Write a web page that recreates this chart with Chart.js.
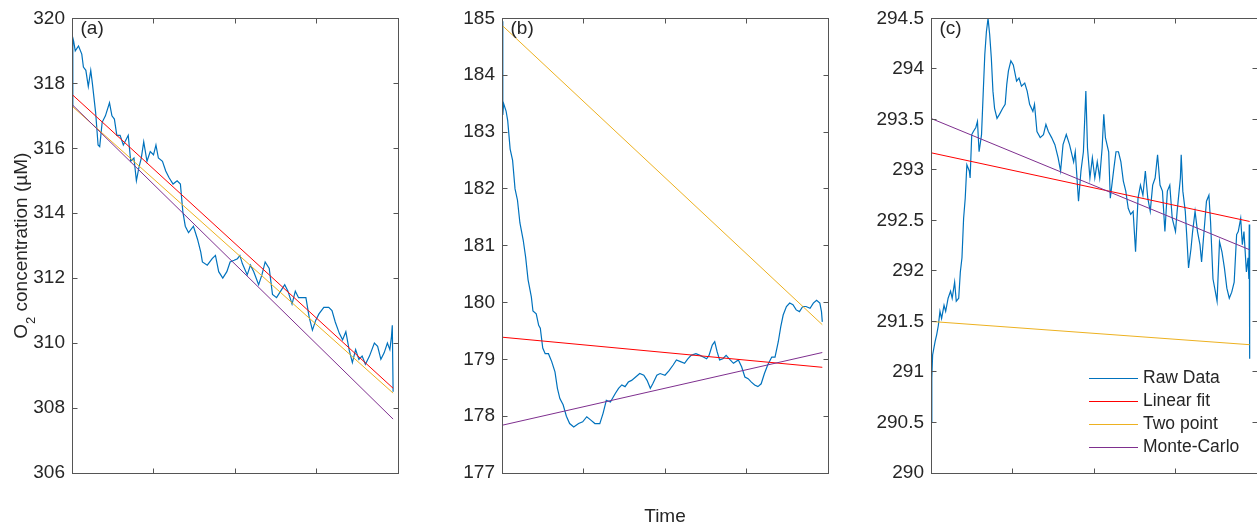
<!DOCTYPE html>
<html>
<head>
<meta charset="utf-8">
<script src="https://cdn.jsdelivr.net/npm/chart.js@4.4.1/dist/chart.umd.min.js"></script>
<style>
  html, body { margin: 0; padding: 0; overflow: hidden; background: #fff; width: 1257px; height: 529px; }
  canvas { position: absolute; top: 0; }
</style>
</head>
<body>
<canvas id="panelA" width="420" height="529" style="left:0px"></canvas>
<canvas id="panelB" width="420" height="529" style="left:420px"></canvas>
<canvas id="panelC" width="420" height="529" style="left:840px"></canvas>
<script>
// ---- panel (a) ----
const timeA = [
  0, 0.01, 0.02, 0.04, 0.08, 0.12, 0.14, 0.17, 0.20, 0.23,
  0.25, 0.29, 0.32, 0.34, 0.37, 0.41, 0.46, 0.49, 0.52, 0.55,
  0.59, 0.63, 0.69, 0.72, 0.76, 0.79, 0.82, 0.85, 0.88, 0.92,
  0.96, 1.00, 1.03, 1.06, 1.11, 1.15, 1.19, 1.24, 1.29, 1.33,
  1.36, 1.39, 1.43, 1.49, 1.54, 1.58, 1.60, 1.66, 1.72, 1.76,
  1.80, 1.85, 1.90, 1.94, 1.99, 2.03, 2.06, 2.09, 2.15, 2.19,
  2.23, 2.29, 2.33, 2.37, 2.42, 2.46, 2.51, 2.56, 2.61, 2.65,
  2.70, 2.74, 2.78, 2.83, 2.87, 2.91, 2.95, 2.99, 3.03, 3.09,
  3.15, 3.19, 3.23, 3.28, 3.32, 3.36, 3.40, 3.44, 3.48, 3.52,
  3.56, 3.60, 3.65, 3.71, 3.75, 3.79, 3.83, 3.87, 3.90, 3.92,
  3.93, 3.94
];
const rawA = [
  317.3, 319.4, 319.3, 319.0, 319.15, 318.9, 318.5, 318.4, 317.9, 318.4,
  318.0, 317.1, 316.1, 316.05, 316.8, 317.0, 317.4, 317.0, 316.9, 316.4,
  316.4, 316.1, 316.4, 315.6, 315.7, 315.0, 315.4, 315.7, 316.2, 315.6,
  315.9, 315.8, 316.1, 315.7, 315.6, 315.3, 315.1, 314.9, 315.0, 314.9,
  314.05, 313.6, 313.4, 313.6, 313.2, 312.8, 312.5, 312.4, 312.6, 312.7,
  312.2, 312.0, 312.2, 312.5, 312.55, 312.6, 312.7, 312.45, 312.1, 312.4,
  312.2, 311.8, 312.1, 312.5, 312.3, 311.5, 311.4, 311.6, 311.8, 311.6,
  311.2, 311.6, 311.4, 311.4, 311.4, 310.8, 310.4, 310.7, 310.9, 311.1,
  311.1, 311.0, 310.65, 310.3, 310.1, 310.35, 309.8, 309.4, 309.8, 309.5,
  309.6, 309.35, 309.6, 310.0, 309.9, 309.5, 309.7, 310.0, 309.8, 310.2,
  310.55, 308.5
];
const fitTimeA = [0, 3.94];
const linearA = [317.66, 308.61];
const twoPointA = [317.3, 308.46];
const monteCarloA = [317.35, 307.66];
const ticksA = { min: 306, max: 320, step: 2 };

// ---- panel (b) ----
const timeB = [
  0, 0.01, 0.02, 0.05, 0.07, 0.10, 0.13, 0.16, 0.19, 0.22,
  0.26, 0.29, 0.32, 0.36, 0.38, 0.42, 0.45, 0.47, 0.50, 0.53,
  0.57, 0.61, 0.65, 0.68, 0.71, 0.75, 0.79, 0.83, 0.88, 0.94,
  0.99, 1.04, 1.09, 1.14, 1.20, 1.24, 1.28, 1.33, 1.39, 1.43,
  1.47, 1.51, 1.55, 1.59, 1.64, 1.69, 1.74, 1.78, 1.82, 1.85,
  1.90, 1.94, 2.00, 2.05, 2.10, 2.14, 2.19, 2.24, 2.28, 2.32,
  2.38, 2.43, 2.47, 2.51, 2.54, 2.58, 2.61, 2.64, 2.67, 2.71,
  2.75, 2.80, 2.84, 2.90, 2.94, 2.98, 3.02, 3.06, 3.10, 3.14,
  3.18, 3.22, 3.26, 3.31, 3.35, 3.39, 3.42, 3.45, 3.49, 3.53,
  3.57, 3.61, 3.65, 3.69, 3.73, 3.78, 3.82, 3.86, 3.90, 3.92,
  3.93
];
const rawB = [
  184.95, 183.3, 183.5, 183.37, 183.2, 182.7, 182.5, 182.0, 181.8, 181.4,
  181.1, 180.8, 180.4, 180.1, 179.85, 179.8, 179.6, 179.55, 179.2, 179.1,
  179.1, 178.96, 178.78, 178.49, 178.31, 178.2, 178.0, 177.87, 177.81, 177.87,
  177.9, 177.99, 177.93, 177.87, 177.87, 178.05, 178.28, 178.25, 178.4, 178.49,
  178.55, 178.52, 178.6, 178.63, 178.69, 178.75, 178.72, 178.63, 178.49, 178.57,
  178.72, 178.75, 178.72, 178.8, 178.9, 178.99, 178.96, 178.93, 179.01, 179.07,
  179.1, 179.07, 179.04, 179.01, 179.07, 179.25, 179.31, 179.13, 178.99, 179.01,
  179.07, 178.99, 178.93, 178.99, 178.87, 178.69, 178.66, 178.6, 178.55, 178.52,
  178.57, 178.75, 178.9, 179.04, 179.04, 179.31, 179.57, 179.78, 179.93, 179.99,
  179.96, 179.87, 179.84, 179.93, 179.93, 179.9, 179.99, 180.04, 179.99, 179.84,
  179.66
];
const fitTimeB = [0, 3.93];
const linearB = [179.39, 178.86];
const twoPointB = [184.88, 179.61];
const monteCarloB = [177.84, 179.12];
const ticksB = { min: 177, max: 185, step: 1 };

// ---- panel (c) ----
const timeC = [
  0, 0.01, 0.02, 0.05, 0.07, 0.09, 0.11, 0.13, 0.16, 0.18,
  0.21, 0.24, 0.26, 0.29, 0.31, 0.34, 0.36, 0.38, 0.40, 0.42,
  0.44, 0.47, 0.48, 0.50, 0.52, 0.55, 0.57, 0.59, 0.62, 0.64,
  0.66, 0.68, 0.70, 0.72, 0.74, 0.76, 0.78, 0.81, 0.84, 0.88,
  0.91, 0.93, 0.95, 0.98, 1.01, 1.05, 1.08, 1.11, 1.15, 1.18,
  1.21, 1.25, 1.27, 1.30, 1.34, 1.38, 1.41, 1.44, 1.48, 1.52,
  1.56, 1.59, 1.62, 1.66, 1.70, 1.75, 1.77, 1.81, 1.84, 1.87,
  1.90, 1.92, 1.95, 1.98, 2.01, 2.04, 2.07, 2.10, 2.12, 2.14,
  2.18, 2.20, 2.24, 2.27, 2.30, 2.33, 2.36, 2.39, 2.42, 2.45,
  2.48, 2.51, 2.54, 2.57, 2.60, 2.63, 2.66, 2.69, 2.72, 2.75,
  2.78, 2.81, 2.84, 2.87, 2.90, 2.93, 2.96, 3.00, 3.02, 3.06,
  3.07, 3.09, 3.12, 3.14, 3.16, 3.19, 3.21, 3.24, 3.27, 3.30,
  3.32, 3.35, 3.38, 3.41, 3.43, 3.46, 3.49, 3.51, 3.54, 3.57,
  3.60, 3.63, 3.66, 3.69, 3.72, 3.75, 3.77, 3.80, 3.82, 3.84,
  3.87, 3.89, 3.90, 3.905, 3.91
];
const rawC = [
  290.51, 290.94, 291.17, 291.3, 291.37, 291.46, 291.6, 291.53, 291.66, 291.6,
  291.73, 291.8, 291.73, 291.89, 291.7, 291.73, 291.99, 292.13, 292.52, 292.72,
  293.05, 292.99, 292.92, 293.35, 293.38, 293.42, 293.48, 293.18, 293.35, 293.75,
  294.14, 294.37, 294.5, 294.34, 294.11, 293.78, 293.61, 293.51, 293.55, 293.61,
  293.65, 293.85, 293.98, 294.08, 294.04, 293.88, 293.91, 293.83, 293.86, 293.78,
  293.65, 293.58, 293.65, 293.38, 293.32, 293.35, 293.45, 293.38, 293.32, 293.25,
  293.12, 292.99, 293.25, 293.35, 293.25, 293.08, 293.18, 292.69, 292.99, 293.18,
  293.78, 293.22, 292.92, 293.12, 292.92, 293.08, 292.92, 293.22, 293.55, 293.32,
  293.18, 292.72, 292.99, 293.18, 293.18, 293.08, 292.89, 292.79, 292.62, 292.56,
  292.59, 292.19, 292.72, 292.85, 292.75, 292.99, 292.72, 292.59, 292.85, 292.92,
  293.15, 292.85, 292.79, 292.39, 292.79, 292.85, 292.52, 292.39, 292.59, 292.92,
  293.15, 292.79, 292.59, 292.32, 292.03, 292.22, 292.39, 292.59, 292.39, 292.26,
  292.09, 292.39, 292.69, 292.75, 292.49, 291.92, 291.79, 291.7, 292.29, 292.19,
  292.03, 291.83, 291.73, 291.79, 291.89, 292.36, 292.39, 292.52, 292.26, 292.39,
  291.99, 292.13, 291.92, 292.46, 291.13
];
const fitTimeC = [0, 3.91];
const linearC = [293.17, 292.49];
const twoPointC = [291.50, 291.27];
const monteCarloC = [293.51, 292.21];
const ticksC = { min: 290, max: 294.5, step: 0.5 };

const seriesNames = ["Raw Data", "Linear fit", "Two point", "Monte-Carlo"];
const seriesColors = ["#0072BD", "#FF0000", "#EDB120", "#7E2F8E"];

const FONT = "'Liberation Sans', Arial, Helvetica, sans-serif";
const TEXT = "#262626";
const AXIS = "#555555";
const TICK_LEN = 5;

function toPoints(xs, ys) {
  return xs.map((x, i) => ({ x: x, y: ys[i] }));
}

// box, inward ticks on all four sides, and the extra texts
const framePlugin = {
  id: "frame",
  afterDatasetsDraw(chart, args, opts) {
    const { ctx, chartArea: a, scales: { x, y } } = chart;
    const L = Math.floor(a.left) + 0.5, R = Math.floor(a.right) + 0.5;
    const T = Math.floor(a.top) + 0.5, B = Math.floor(a.bottom) + 0.5;
    ctx.save();
    ctx.strokeStyle = AXIS;
    ctx.lineWidth = 1;
    ctx.strokeRect(L, T, R - L, B - T);
    ctx.beginPath();
    x.ticks.forEach(t => {
      if (t.value <= x.min || t.value >= x.max) return;
      const px = Math.floor(x.getPixelForValue(t.value)) + 0.5;
      ctx.moveTo(px, B); ctx.lineTo(px, B - TICK_LEN);
      ctx.moveTo(px, T); ctx.lineTo(px, T + TICK_LEN);
    });
    y.ticks.forEach(t => {
      if (t.value <= y.min || t.value >= y.max) return;
      const py = Math.floor(y.getPixelForValue(t.value)) + 0.5;
      ctx.moveTo(L, py); ctx.lineTo(L + TICK_LEN, py);
      ctx.moveTo(R, py); ctx.lineTo(R - TICK_LEN, py);
    });
    ctx.stroke();

    ctx.fillStyle = TEXT;
    ctx.font = "19px " + FONT;
    ctx.textAlign = "left";
    ctx.textBaseline = "alphabetic";
    ctx.fillText(opts.letter, a.left + 8.5, 34);

    if (opts.yTitle) {
      const big = "19px " + FONT, small = "13px " + FONT;
      const rest = " concentration (\u00B5M)";
      ctx.font = big;
      const wO = ctx.measureText("O").width, wRest = ctx.measureText(rest).width;
      ctx.font = small;
      const w2 = ctx.measureText("2").width;
      ctx.save();
      ctx.translate(27, (a.top + a.bottom) / 2);
      ctx.rotate(-Math.PI / 2);
      let sx = -(wO + w2 + wRest) / 2;
      ctx.font = big; ctx.fillText("O", sx, 0); sx += wO;
      ctx.font = small; ctx.fillText("2", sx, 7.5); sx += w2;
      ctx.font = big; ctx.fillText(rest, sx, 0);
      ctx.restore();
    }

    if (opts.xTitle) {
      ctx.font = "19px " + FONT;
      ctx.textAlign = "center";
      ctx.fillText(opts.xTitle, (a.left + a.right) / 2, 522);
    }

    if (opts.legend) {
      ctx.font = "17.5px " + FONT;
      ctx.textAlign = "left";
      ctx.textBaseline = "middle";
      chart.data.datasets.forEach((ds, i) => {
        const ly = 378 + i * 23.2;
        ctx.strokeStyle = ds.borderColor;
        ctx.lineWidth = 1;
        ctx.beginPath();
        ctx.moveTo(249, Math.floor(ly) + 0.5);
        ctx.lineTo(298, Math.floor(ly) + 0.5);
        ctx.stroke();
        ctx.fillStyle = TEXT;
        ctx.fillText(ds.label, 303, ly);
      });
    }
    ctx.restore();
  }
};

function makePanel(id, cfg) {
  const fits = [cfg.linear, cfg.twoPoint, cfg.monteCarlo];
  const datasets = [{
    label: seriesNames[0],
    data: toPoints(cfg.time, cfg.raw),
    borderColor: seriesColors[0],
    borderWidth: 1.2,
    order: 3
  }].concat(fits.map((vals, i) => ({
    label: seriesNames[i + 1],
    data: toPoints(cfg.fitTime, vals),
    borderColor: seriesColors[i + 1],
    borderWidth: 1,
    order: 2 - i
  })));

  return new Chart(document.getElementById(id), {
    type: "line",
    data: { datasets },
    options: {
      responsive: false,
      animation: false,
      devicePixelRatio: 1,
      layout: { padding: { top: 13, right: cfg.padRight, bottom: 56, left: 0 } },
      elements: { point: { radius: 0 }, line: { tension: 0 } },
      plugins: {
        legend: { display: false },
        tooltip: { enabled: false },
        frame: { letter: cfg.letter, yTitle: cfg.yTitle, xTitle: cfg.xTitle, legend: cfg.legend }
      },
      scales: {
        x: {
          type: "linear", min: 0, max: 4,
          ticks: { display: false, stepSize: 1 },
          grid: { display: false, drawTicks: false },
          border: { display: false },
          afterFit(s) { s.height = 0; }
        },
        y: {
          type: "linear", min: cfg.ticks.min, max: cfg.ticks.max,
          ticks: {
            stepSize: cfg.ticks.step, padding: 7, color: TEXT, autoSkip: false,
            font: { family: FONT, size: 19 },
            callback: v => String(v)
          },
          grid: { display: false, drawTicks: false },
          border: { display: false },
          afterFit(s) { s.width = cfg.axisWidth; }
        }
      }
    },
    plugins: [framePlugin]
  });
}

makePanel("panelA", {
  time: timeA, raw: rawA, fitTime: fitTimeA,
  linear: linearA, twoPoint: twoPointA, monteCarlo: monteCarloA,
  ticks: ticksA, axisWidth: 72, padRight: 22, letter: "(a)", yTitle: true
});
makePanel("panelB", {
  time: timeB, raw: rawB, fitTime: fitTimeB,
  linear: linearB, twoPoint: twoPointB, monteCarlo: monteCarloB,
  ticks: ticksB, axisWidth: 82, padRight: 12, letter: "(b)", xTitle: "Time"
});
makePanel("panelC", {
  time: timeC, raw: rawC, fitTime: fitTimeC,
  linear: linearC, twoPoint: twoPointC, monteCarlo: monteCarloC,
  ticks: ticksC, axisWidth: 91, padRight: 3, letter: "(c)", legend: true
});
</script>
</body>
</html>
